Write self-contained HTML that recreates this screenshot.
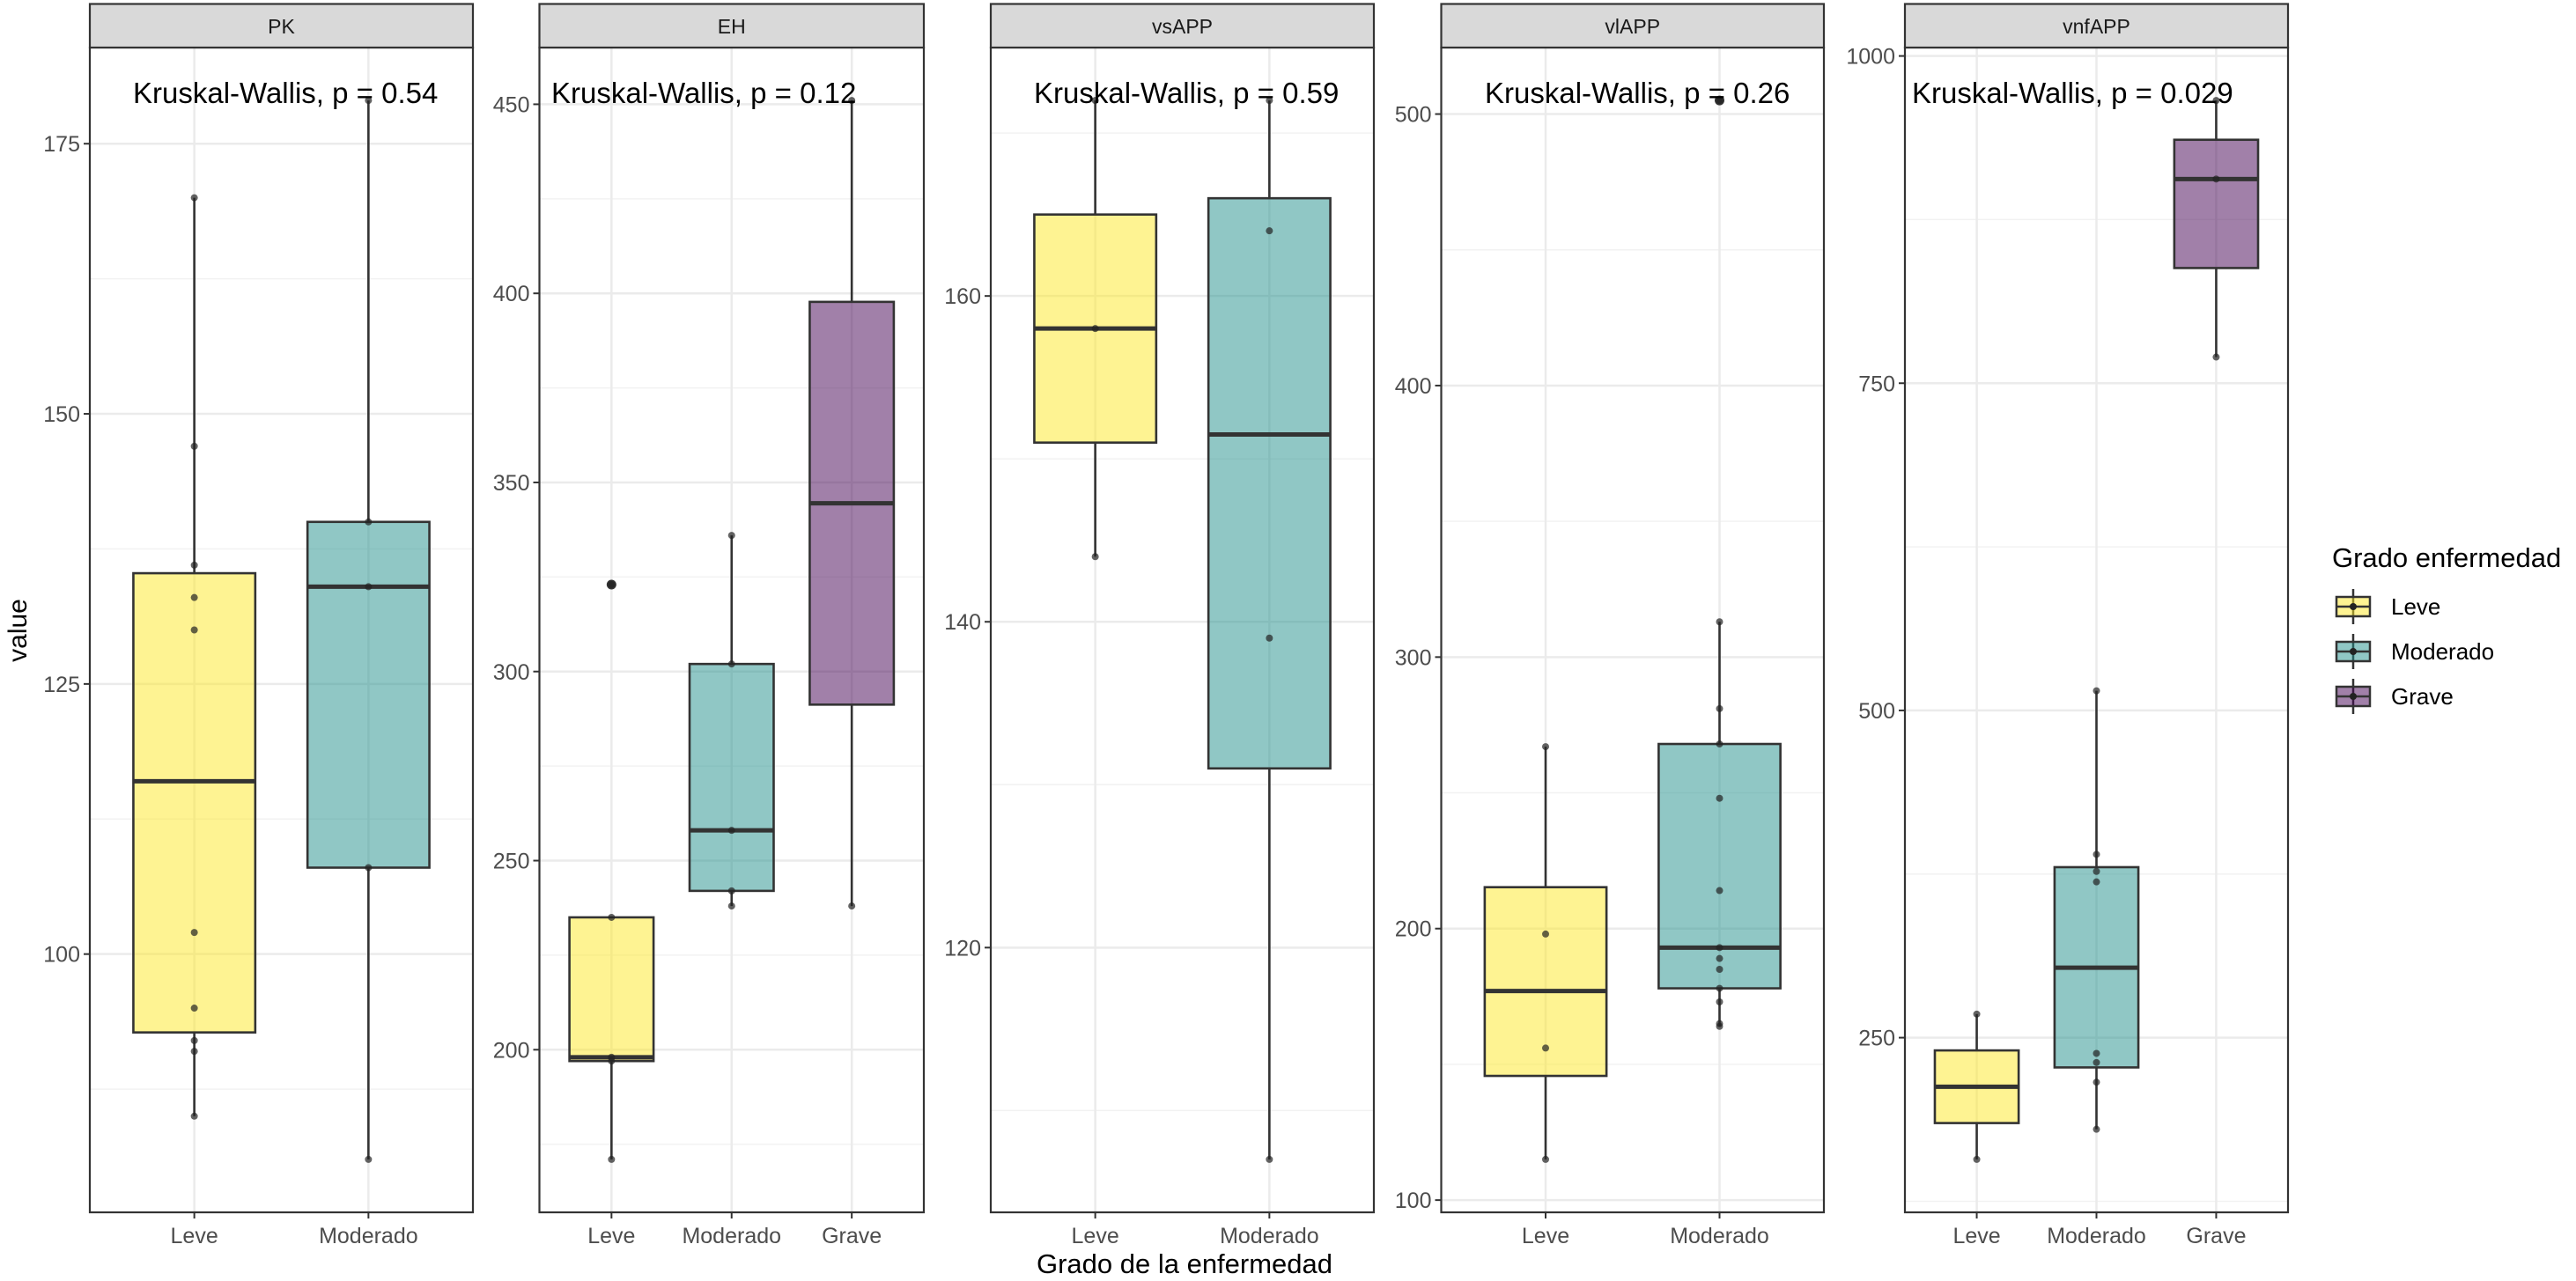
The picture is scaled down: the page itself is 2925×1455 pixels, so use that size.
<!DOCTYPE html>
<html><head><meta charset="utf-8"><style>
html,body{margin:0;padding:0;background:#fff;}
svg{display:block;font-family:"Liberation Sans",Arial,sans-serif;}
</style></head><body>
<svg id="chart" width="2925" height="1455" viewBox="0 0 2925 1455"></svg>
<script>
const panelNames = ["PK","EH","vsAPP","vlAPP","vnfAPP"];
const pvalueLabels = ["Kruskal-Wallis, p = 0.54","Kruskal-Wallis, p = 0.12","Kruskal-Wallis, p = 0.59","Kruskal-Wallis, p = 0.26","Kruskal-Wallis, p = 0.029"];
const categoriesPK = ["Leve","Moderado"];
const categoriesEH = ["Leve","Moderado","Grave"];
const categoriesVS = ["Leve","Moderado"];
const categoriesVL = ["Leve","Moderado"];
const categoriesVNF = ["Leve","Moderado","Grave"];
const pkLeve = [170,147,136,133,130,102,95,92,91,85];
const pkModerado = [179,140,134,108,81];
const ehLeve = [323,235,198,197,171];
const ehModerado = [336,302,258,242,238];
const ehGrave = [451,238];
const vsLeve = [172,158,144];
const vsModerado = [172,164,139,107];
const vlLeve = [267,198,156,115];
const vlModerado = [505,313,281,268,248,214,193,189,185,178,173,165,164];
const vnfLeve = [268,157];
const vnfModerado = [515,390,377,369,238,231,216,180];
const vnfGrave = [966,906,770];
const ticksPK = [100,125,150,175];
const ticksEH = [200,250,300,350,400,450];
const ticksVS = [120,140,160];
const ticksVL = [100,200,300,400,500];
const ticksVNF = [250,500,750,1000];
const legendLabels = ["Leve","Moderado","Grave"];

const colors = {Leve:"#FDE725",Moderado:"#21908C",Grave:"#440154"};
const NS="http://www.w3.org/2000/svg";
const svg=document.getElementById('chart');
function mk(tag,attrs,parent){const e=document.createElementNS(NS,tag);for(const k in attrs)e.setAttribute(k,attrs[k]);(parent||svg).appendChild(e);return e;}
function quant(s,p){const h=(s.length-1)*p,l=Math.floor(h),u=Math.ceil(h);return s[l]+(s[u]-s[l])*(h-l);}

const panels=[
 {x0:102,x1:537,cats:categoriesPK,data:[pkLeve,pkModerado],ticks:ticksPK,tx:151},
 {x0:612.5,x1:1049,cats:categoriesEH,data:[ehLeve,ehModerado,ehGrave],ticks:ticksEH,tx:626},
 {x0:1125,x1:1560,cats:categoriesVS,data:[vsLeve,vsModerado],ticks:ticksVS,tx:1174},
 {x0:1636.5,x1:2071,cats:categoriesVL,data:[vlLeve,vlModerado],ticks:ticksVL,tx:1686},
 {x0:2163,x1:2598,cats:categoriesVNF,data:[vnfLeve,vnfModerado,vnfGrave],ticks:ticksVNF,tx:2171}
];
const Y0=54, Y1=1377, STRIP0=4.5;

panels.forEach((p,pi)=>{
  const g=mk('g',{});
  
  
  let all=[].concat(...p.data);
  let mn=Math.min(...all),mx=Math.max(...all),r=mx-mn;
  const d0=mn-0.05*r,d1=mx+0.05*r;
  const y=v=>Y1-(v-d0)/(d1-d0)*(Y1-Y0);
  const n=p.cats.length, unit=(p.x1-p.x0)/(n-1+1.2);
  const x=i=>p.x0+unit*(0.6+i);
  mk('rect',{x:p.x0,y:Y0,width:p.x1-p.x0,height:Y1-Y0,fill:'#fff'},g);
  const step=p.ticks[1]-p.ticks[0];
  for(let v=p.ticks[0]-step/2;v<=d1;v+=step){ if(v<d0)continue;
    const l=mk('line',{x1:p.x0,x2:p.x1,y1:y(v),y2:y(v),stroke:'#f2f2f2','stroke-width':1.5},g);
    
    }
  p.ticks.forEach(t=>{
    const l=mk('line',{x1:p.x0,x2:p.x1,y1:y(t),y2:y(t),stroke:'#ebebeb','stroke-width':2.5},g);
    
    
    mk('line',{x1:p.x0-7,x2:p.x0,y1:y(t),y2:y(t),stroke:'#333','stroke-width':2},g);
    const tl=mk('text',{x:p.x0-11,y:y(t)+9,'text-anchor':'end','font-size':25,fill:'#4d4d4d'},g);
    tl.textContent=t;
    
    
  });
  p.cats.forEach((c,i)=>{
    const l=mk('line',{x1:x(i),x2:x(i),y1:Y0,y2:Y1,stroke:'#ebebeb','stroke-width':2.5},g);
    
    
    mk('line',{x1:x(i),x2:x(i),y1:Y1,y2:Y1+7,stroke:'#333','stroke-width':2},g);
    const tl=mk('text',{x:x(i),y:Y1+35,'text-anchor':'middle','font-size':25,fill:'#4d4d4d'},g);
    tl.textContent=c;
    
    
  });
  p.data.forEach((arr,i)=>{
    const s=[...arr].sort((a,b)=>a-b);
    const q1=quant(s,.25),md=quant(s,.5),q3=quant(s,.75),iqr=q3-q1;
    const inl=s.filter(v=>v>=q1-1.5*iqr&&v<=q3+1.5*iqr);
    const lo=Math.min(...inl),hi=Math.max(...inl);
    const bw=unit*0.7,cx=x(i);
    const bg=mk('g',{},g);
    
    
    mk('line',{x1:cx,x2:cx,y1:y(hi),y2:y(q3),stroke:'#333','stroke-width':2.6},bg);
    mk('line',{x1:cx,x2:cx,y1:y(q1),y2:y(lo),stroke:'#333','stroke-width':2.6},bg);
    mk('rect',{x:cx-bw/2,y:y(q3),width:bw,height:y(q1)-y(q3),fill:colors[p.cats[i]],'fill-opacity':0.5,stroke:'#333','stroke-width':2.6},bg);
    mk('line',{x1:cx-bw/2,x2:cx+bw/2,y1:y(md),y2:y(md),stroke:'#333','stroke-width':5},bg);
    s.forEach(v=>{
      const out=v<lo||v>hi;
      if(out){const o=mk('circle',{cx:cx,cy:y(v),r:5.5,fill:'#333'},bg);
        
        }
      const c=mk('circle',{cx:cx,cy:y(v),r:4,fill:'#222','fill-opacity':0.7},bg);
      
      
    });
  });
  mk('rect',{x:p.x0,y:Y0,width:p.x1-p.x0,height:Y1-Y0,fill:'none',stroke:'#333','stroke-width':2.2},g);
  const st=mk('rect',{x:p.x0,y:STRIP0,width:p.x1-p.x0,height:Y0-STRIP0,fill:'#d9d9d9',stroke:'#333','stroke-width':2.2},g);
  
  
  const sl=mk('text',{x:(p.x0+p.x1)/2,y:38,'text-anchor':'middle','font-size':23,fill:'#1a1a1a'},g);
  sl.textContent=panelNames[pi];
  
  
  const kt=mk('text',{x:p.tx,y:117,'font-size':33,fill:'#000'},g);
  kt.textContent=pvalueLabels[pi];
  
  
});

const yt=mk('text',{x:0,y:0,transform:'translate(30,716) rotate(-90)','text-anchor':'middle','font-size':30,fill:'#000'});
yt.textContent='value';


const xt=mk('text',{x:1345,y:1446,'text-anchor':'middle','font-size':31,fill:'#000'});
xt.textContent='Grado de la enfermedad';



const lg=mk('g',{});


const lt=mk('text',{x:2648,y:644,'font-size':31,fill:'#000'},lg);
lt.textContent='Grado enfermedad';


legendLabels.forEach((lab,i)=>{
  const cy=689+i*51;
  const e=mk('g',{},lg);
  
  
  mk('line',{x1:2672,x2:2672,y1:cy-20,y2:cy+20,stroke:'#333','stroke-width':2.5},e);
  mk('rect',{x:2653,y:cy-11,width:38,height:22,fill:colors[lab],'fill-opacity':0.5,stroke:'#333','stroke-width':2.5},e);
  mk('line',{x1:2653,x2:2691,y1:cy,y2:cy,stroke:'#333','stroke-width':2.5},e);
  mk('circle',{cx:2672,cy:cy,r:4,fill:'#222'},e);
  const t=mk('text',{x:2715,y:cy+9,'font-size':26,fill:'#000'},e);
  t.textContent=lab;
});
</script>
</body></html>
